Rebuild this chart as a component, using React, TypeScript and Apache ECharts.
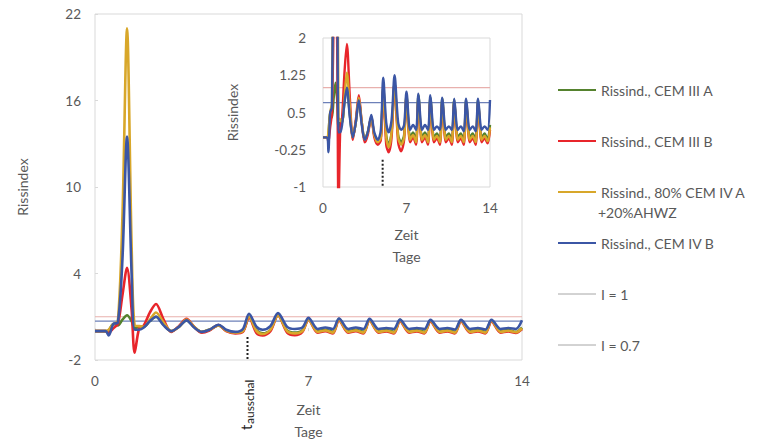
import React, { useEffect, useRef } from "react";
import * as echarts from "echarts";

const FONT = 'Lato, "Open Sans", sans-serif';
const TXT = "#595959";

// time in days
const TIME = [
  0, 0.35, 0.45, 0.6, 0.75, 0.9, 1.05, 1.2, 1.3, 1.45, 1.6, 1.8, 2.0, 2.25, 2.5, 2.75,
  3.0, 3.25, 3.5, 3.75, 4.05, 4.3, 4.6, 4.85, 5.05, 5.3, 5.5, 5.75, 6.0, 6.3, 6.55, 6.8,
  7.0, 7.3, 7.55, 7.8, 8.0, 8.3, 8.55, 8.8, 9.0, 9.3, 9.55, 9.8, 10.0, 10.3, 10.55, 10.8,
  11.0, 11.3, 11.55, 11.8, 12.0, 12.3, 12.55, 12.8, 13.0, 13.3, 13.55, 13.8, 14.0,
];

const CEM_III_A = [
  0, 0, 0.05, 0.5, 0.4, 0.8, 1.1, 0.7, 0.2, 0.3, 0.3, 0.7, 1.0, 0.45, 0.0, 0.3,
  0.75, 0.3, -0.05, 0.1, 0.4, 0.05, -0.1, 0.0, 1.0, 0.05, -0.15, 0.1, 1.1, 0.05, -0.1, 0.05,
  0.85, 0.0, 0.1, -0.05, 0.85, 0.0, 0.1, -0.05, 0.8, 0.0, 0.08, -0.05, 0.78, 0.0, 0.08, -0.05,
  0.76, 0.0, 0.08, -0.05, 0.76, 0.0, 0.08, -0.05, 0.76, 0.0, 0.08, -0.05, 0.25,
];

const CEM_III_B = [
  0, 0, -0.1, 0.2, 0.5, 2.5, 4.4, 1.5, -1.5, 0.2, 0.4, 1.3, 1.88, 0.8, -0.05, 0.35,
  0.85, 0.3, -0.1, 0.05, 0.42, 0.0, -0.15, -0.05, 0.95, -0.15, -0.3, 0.0, 1.1, -0.1, -0.28, -0.05,
  0.8, -0.1, 0.0, -0.15, 0.75, -0.1, 0.0, -0.15, 0.72, -0.1, -0.02, -0.15, 0.7, -0.1, -0.02, -0.15,
  0.68, -0.1, -0.02, -0.15, 0.68, -0.1, -0.02, -0.15, 0.68, -0.1, -0.02, -0.12, 0.15,
];

const CEM_IV_A_AHWZ = [
  0, 0, 0.1, 0.5, 0.7, 8, 21, 6, 0.4, 0.35, 0.3, 0.8, 1.3, 0.6, 0.0, 0.3,
  0.8, 0.3, -0.05, 0.1, 0.4, 0.05, -0.1, 0.0, 1.0, 0.0, -0.2, 0.1, 1.1, 0.0, -0.15, 0.0,
  0.82, -0.05, 0.05, -0.1, 0.8, -0.05, 0.05, -0.1, 0.76, -0.05, 0.03, -0.1, 0.74, -0.05, 0.03, -0.1,
  0.72, -0.05, 0.03, -0.1, 0.72, -0.05, 0.03, -0.1, 0.72, -0.05, 0.03, -0.08, 0.2,
];

const CEM_IV_B = [
  0, 0, -0.3, 0.5, 0.6, 5, 13.5, 4, 0.1, 0.1, 0.25, 0.7, 1.0, 0.4, 0.0, 0.3,
  0.75, 0.25, -0.05, 0.1, 0.45, 0.1, -0.05, 0.15, 1.2, 0.3, 0.1, 0.35, 1.25, 0.3, 0.15, 0.25,
  0.92, 0.15, 0.25, 0.15, 0.88, 0.15, 0.25, 0.15, 0.85, 0.15, 0.22, 0.15, 0.8, 0.15, 0.22, 0.15,
  0.78, 0.15, 0.22, 0.12, 0.78, 0.15, 0.22, 0.12, 0.78, 0.15, 0.22, 0.15, 0.75,
];

const LIMIT_1 = 1;
const LIMIT_07 = 0.7;
const T_AUSSCHAL = 5;

const MAIN_X_TICKS = [0, 7, 14];
const MAIN_Y_TICKS = [-2, 4, 10, 16, 22];
const INSET_Y_TICKS = [-1, -0.25, 0.5, 1.25, 2];

const N_A = "Rissind., CEM III A";
const N_B = "Rissind., CEM III B";
const N_C = "Rissind., 80% CEM IV A +20%AHWZ";
const N_D = "Rissind., CEM IV B";
const N_L1 = "I = 1";
const N_L07 = "I = 0.7";

const COL_A = "#55822e";
const COL_B = "#e8252b";
const COL_C = "#d8a72a";
const COL_D = "#3b56a5";
const COL_L1 = "#e8b0ad";
const COL_L07 = "#6d80b8";

export default function App() {
  const ref = useRef<HTMLDivElement>(null);
  useEffect(() => {
    const chart = echarts.init(ref.current!, null, { renderer: "svg" });

    const dataSeries = (gi: number, w: number) =>
      [
        [N_A, CEM_III_A, COL_A],
        [N_B, CEM_III_B, COL_B],
        [N_C, CEM_IV_A_AHWZ, COL_C],
        [N_D, CEM_IV_B, COL_D],
      ].map(([name, arr, color]: any) => ({
        type: "line",
        name,
        xAxisIndex: gi,
        yAxisIndex: gi,
        data: TIME.map((d, i) => [d, arr[i]]),
        symbol: "none",
        showSymbol: false,
        smooth: 0.3,
        clip: true,
        lineStyle: { color, width: w },
        itemStyle: { color },
      }));

    const limitSeries = (gi: number) => [
      {
        type: "line",
        name: N_L1,
        xAxisIndex: gi,
        yAxisIndex: gi,
        data: [[0, LIMIT_1], [14, LIMIT_1]],
        symbol: "none",
        lineStyle: { color: COL_L1, width: 1.2 },
        itemStyle: { color: COL_L1 },
      },
      {
        type: "line",
        name: N_L07,
        xAxisIndex: gi,
        yAxisIndex: gi,
        data: [[0, LIMIT_07], [14, LIMIT_07]],
        symbol: "none",
        lineStyle: { color: COL_L07, width: 1.2 },
        itemStyle: { color: COL_L07 },
      },
    ];

    const dotted = (gi: number, top: number, bottom: number) => ({
      type: "line",
      name: "t_ausschal",
      xAxisIndex: gi,
      yAxisIndex: gi,
      data: [[T_AUSSCHAL, top], [T_AUSSCHAL, bottom]],
      symbol: "none",
      lineStyle: { color: "#222", width: 2, type: [2, 2] },
      z: 5,
    });

    const labelStyle = { color: TXT, fontSize: 13.5, fontFamily: FONT };
    const nameStyle = { color: TXT, fontSize: 14, fontFamily: FONT, lineHeight: 22 };
    const tickStyle = { show: true, inside: true, length: 3, lineStyle: { color: "#d9d9d9" } };

    chart.setOption({
      animation: false,
      backgroundColor: "#fff",
      textStyle: { fontFamily: FONT },
      grid: [
        { left: 95, top: 14, width: 427, height: 346, show: true, borderColor: "#d9d9d9", borderWidth: 1, backgroundColor: "transparent", containLabel: false, outerBoundsMode: "none" },
        { left: 323, top: 38, width: 167, height: 149, show: true, borderColor: "#d9d9d9", borderWidth: 1, backgroundColor: "#fff", containLabel: false, outerBoundsMode: "none" },
      ],
      xAxis: [
        {
          gridIndex: 0, type: "value", min: 0, max: 14, interval: 7,
          axisLine: { show: false }, splitLine: { show: false },
          axisTick: { ...tickStyle, customValues: MAIN_X_TICKS },
          axisLabel: { ...labelStyle, margin: 14 },
          name: "Zeit\nTage", nameLocation: "middle", nameGap: 38, nameTextStyle: nameStyle,
        },
        {
          gridIndex: 1, type: "value", min: 0, max: 14, interval: 7,
          axisLine: { show: false }, splitLine: { show: false },
          axisTick: { show: false },
          axisLabel: { ...labelStyle, margin: 14 },
          name: "Zeit\nTage", nameLocation: "middle", nameGap: 36, nameTextStyle: nameStyle,
        },
      ],
      yAxis: [
        {
          gridIndex: 0, type: "value", min: -2, max: 22, interval: 2,
          axisLine: { show: false }, splitLine: { show: false },
          axisTick: { ...tickStyle, customValues: MAIN_Y_TICKS },
          axisLabel: {
            ...labelStyle, margin: 14, customValues: MAIN_Y_TICKS,
            formatter: (v: number) => (MAIN_Y_TICKS.includes(v) ? String(v) : ""),
          },
          name: "Rissindex", nameLocation: "middle", nameGap: 62, nameTextStyle: nameStyle,
        },
        {
          gridIndex: 1, type: "value", min: -1, max: 2, interval: 0.25,
          axisLine: { show: false }, splitLine: { show: false },
          axisTick: { show: false },
          axisLabel: {
            ...labelStyle, margin: 17, customValues: INSET_Y_TICKS,
            formatter: (v: number) =>
              INSET_Y_TICKS.some((t) => Math.abs(t - v) < 1e-6) ? String(v) : "",
          },
          name: "Rissindex", nameLocation: "middle", nameGap: 80, nameTextStyle: nameStyle,
        },
      ],
      legend: {
        orient: "vertical",
        left: 552,
        top: 78,
        itemWidth: 38,
        itemHeight: 14,
        itemGap: 37,
        selectedMode: false,
        itemStyle: { opacity: 0 },
        textStyle: { color: TXT, fontSize: 14, fontFamily: FONT, lineHeight: 14 },
        formatter: (name: string) => (name === N_C ? "Rissind., 80% CEM IV A" : name),
        data: [
          { name: N_A },
          { name: N_B },
          { name: N_C },
          { name: N_D },
          { name: N_L1, lineStyle: { color: "#a6a6a6", width: 1 }, itemStyle: { color: "#a6a6a6", opacity: 0 } },
          { name: N_L07, lineStyle: { color: "#a6a6a6", width: 1 }, itemStyle: { color: "#a6a6a6", opacity: 0 } },
        ],
      },
      graphic: [
        {
          type: "text",
          left: 598,
          top: 205,
          style: { text: "+20%AHWZ", fill: TXT, fontSize: 14, fontFamily: FONT },
        },
        {
          type: "group",
          x: 246,
          y: 430,
          rotation: Math.PI / 2,
          children: [
            { type: "text", x: 0, y: 0, style: { text: "t", fill: "#222", fontSize: 15, fontFamily: FONT, verticalAlign: "middle", align: "left" } },
            { type: "text", x: 6, y: 3, style: { text: "ausschal", fill: "#222", fontSize: 12, fontFamily: FONT, verticalAlign: "middle", align: "left" } },
          ],
        },
      ],
      series: [
        ...limitSeries(0),
        ...dataSeries(0, 2.6),
        dotted(0, -0.4, -2),
        ...limitSeries(1),
        ...dataSeries(1, 2.4),
        dotted(1, -0.45, -1),
      ],
    });
    return () => chart.dispose();
  }, []);
  return (
    <div
      ref={ref}
      style={{ position: "absolute", left: 0, top: 0, width: 763, height: 439 }}
    />
  );
}
